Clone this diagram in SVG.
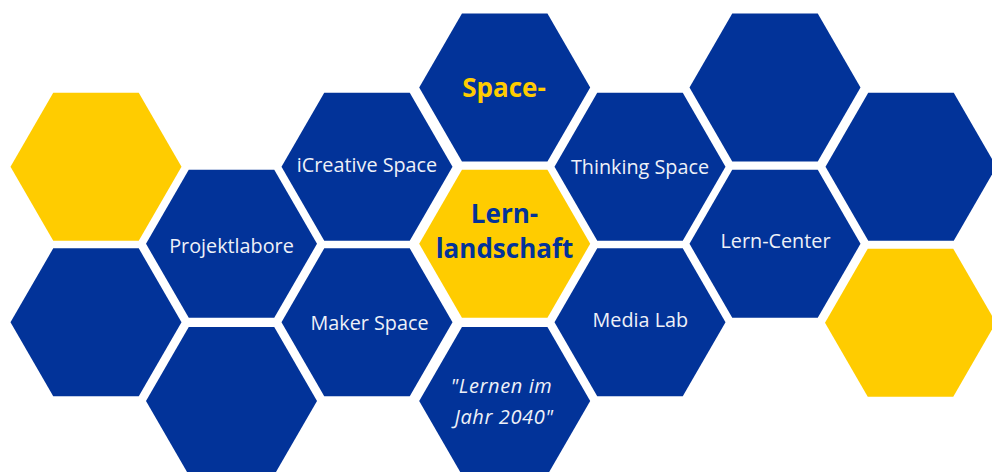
<svg xmlns="http://www.w3.org/2000/svg" xmlns:xlink="http://www.w3.org/1999/xlink" width="992" height="472" viewBox="0 0 992 472">
  <style>
    .blue { fill: #023399; }
    .yellow { fill: #FFCC00; }
    .lbl { font-family: "Open Sans", "Noto Sans", "Liberation Sans", sans-serif; font-size: 19.8px; fill: #eef1f8; text-anchor: middle; }
    .it { font-style: italic; font-size: 20px; letter-spacing: 0.6px; }
    .big { font-family: "Open Sans", "Noto Sans", "Liberation Sans", sans-serif; font-size: 26px; font-weight: bold; text-anchor: middle; }
  </style>
  <defs>
    <polygon id="hex" points="-85.5,0 -42.75,-74 42.75,-74 85.5,0 42.75,74 -42.75,74"/>
  </defs>
  <rect width="992" height="472" fill="#ffffff"/>

  <g id="hex-c0-r0"><use xlink:href="#hex" href="#hex" class="yellow" transform="translate(96,166.7)"/></g>
  <g id="hex-c0-r1"><use xlink:href="#hex" href="#hex" class="blue" transform="translate(96,322.3)"/></g>

  <g id="projektlabore"><use xlink:href="#hex" href="#hex" class="blue" transform="translate(231.5,243.8)"/>
    <text class="lbl" x="231.5" y="252.5">Projektlabore</text></g>
  <g id="hex-c1-r2"><use xlink:href="#hex" href="#hex" class="blue" transform="translate(231.5,401)"/></g>

  <g id="icreative-space"><use xlink:href="#hex" href="#hex" class="blue" transform="translate(367,166.7)"/>
    <text class="lbl" x="367" y="172">iCreative Space</text></g>
  <g id="maker-space"><use xlink:href="#hex" href="#hex" class="blue" transform="translate(367,322.3)"/>
    <text class="lbl" x="369.5" y="330">Maker Space</text></g>

  <g id="space"><use xlink:href="#hex" href="#hex" class="blue" transform="translate(504.7,87.5)"/>
    <text class="big" x="504" y="96.5" fill="#FFCC00">Space-</text></g>
  <g id="lernlandschaft"><use xlink:href="#hex" href="#hex" class="yellow" transform="translate(504.7,243.8)"/>
    <text class="big" x="504.5" y="222.5" fill="#023399">Lern-</text>
    <text class="big" x="504.5" y="258.3" fill="#023399">landschaft</text></g>
  <g id="lernen-2040"><use xlink:href="#hex" href="#hex" class="blue" transform="translate(504.7,401)"/>
    <text class="lbl it" x="501.5" y="393.3">"Lernen im</text>
    <text class="lbl it" x="504" y="424.3">Jahr 2040"</text></g>

  <g id="thinking-space"><use xlink:href="#hex" href="#hex" class="blue" transform="translate(640,166.7)"/>
    <text class="lbl" x="640" y="174">Thinking Space</text></g>
  <g id="media-lab"><use xlink:href="#hex" href="#hex" class="blue" transform="translate(640,322.3)"/>
    <text class="lbl" x="640.3" y="326.7">Media Lab</text></g>

  <g id="hex-c5-r0"><use xlink:href="#hex" href="#hex" class="blue" transform="translate(775,87.5)"/></g>
  <g id="lern-center"><use xlink:href="#hex" href="#hex" class="blue" transform="translate(775,243.8)"/>
    <text class="lbl" x="775.5" y="248.3">Lern-Center</text></g>

  <g id="hex-c6-r0"><use xlink:href="#hex" href="#hex" class="blue" transform="translate(911,166.7)"/></g>
  <g id="hex-c6-r1"><use xlink:href="#hex" href="#hex" class="yellow" transform="translate(910.5,322.7)"/></g>

  <g id="connectors"/>
</svg>
